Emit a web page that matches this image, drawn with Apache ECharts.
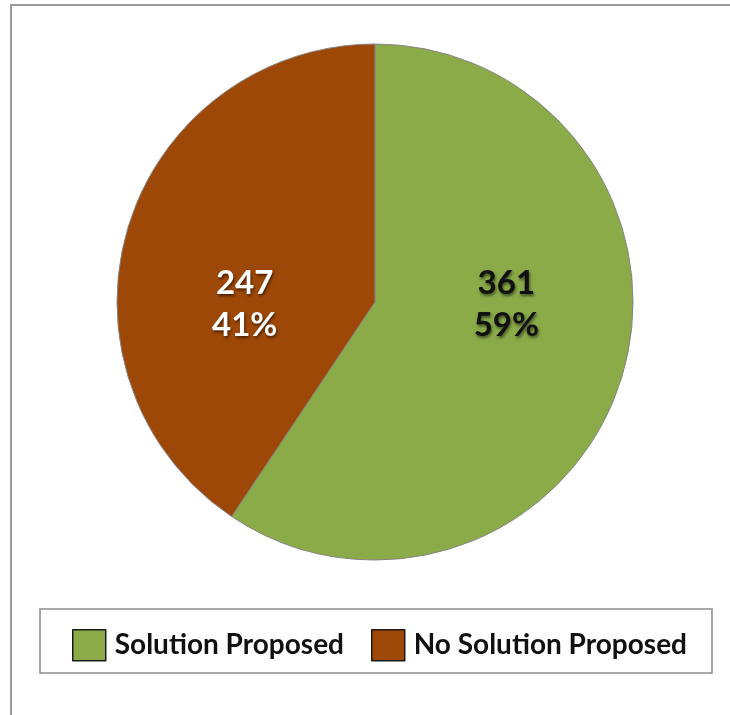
<!DOCTYPE html>
<html>
<head>
<meta charset="utf-8">
<script src="https://cdn.jsdelivr.net/npm/echarts@6/dist/echarts.min.js"></script>
<style>
  html, body { margin: 0; padding: 0; background: #fff; }
  #chart { width: 730px; height: 715px; }
</style>
</head>
<body>
<div id="chart"></div>
<script>
// Proposal outcome counts
const categories = ['Solution Proposed', 'No Solution Proposed'];
const counts = [361, 247];
const sliceColors = ['#8BAB49', '#9E4808'];
const labelColors = ['#111111', '#ffffff'];

const chart = echarts.init(document.getElementById('chart'));

const pieData = categories.map((name, i) => ({
  name: name,
  value: counts[i],
  itemStyle: { color: sliceColors[i] },
  label: { color: labelColors[i] }
}));

chart.setOption({
  animation: false,
  backgroundColor: '#ffffff',
  graphic: [
    {
      type: 'rect',
      shape: { x: 11, y: 5, width: 740, height: 740 },
      style: { fill: 'none', stroke: '#9a9a9a', lineWidth: 2 },
      z: 0
    },
    {
      type: 'rect',
      shape: { x: 40, y: 609, width: 672, height: 64 },
      style: { fill: '#ffffff', stroke: '#8c8c8c', lineWidth: 1.5 },
      z: 0
    }
  ],
  legend: {
    data: categories,
    left: 67,
    top: 624,
    orient: 'horizontal',
    icon: 'rect',
    itemWidth: 33,
    itemHeight: 31,
    itemGap: 27,
    itemStyle: { borderColor: '#1a1a1a', borderWidth: 1.5 },
    textStyle: {
      fontFamily: 'Lato',
      fontWeight: 'bold',
      fontSize: 28,
      color: '#111',
      padding: [0, 0, 0, 4]
    },
    selectedMode: false,
    z: 5
  },
  series: [
    {
      type: 'pie',
      center: [375, 302],
      radius: [0, 258],
      startAngle: 90,
      clockwise: true,
      percentPrecision: 0,
      data: pieData,
      itemStyle: { borderColor: '#858585', borderWidth: 1 },
      label: {
        show: true,
        position: 'inside',
        formatter: '{c}\n{d}%',
        fontFamily: 'Lato',
        fontWeight: 'bold',
        fontSize: 33,
        lineHeight: 42,
        textShadowColor: 'rgba(0,0,0,0.55)',
        textShadowBlur: 3,
        textShadowOffsetX: 1,
        textShadowOffsetY: 2
      },
      labelLayout: function (params) {
        return { y: 304, dx: params.dataIndex === 0 ? 5 : -4 };
      },
      labelLine: { show: false },
      emphasis: { disabled: true }
    }
  ]
});
</script>
</body>
</html>
